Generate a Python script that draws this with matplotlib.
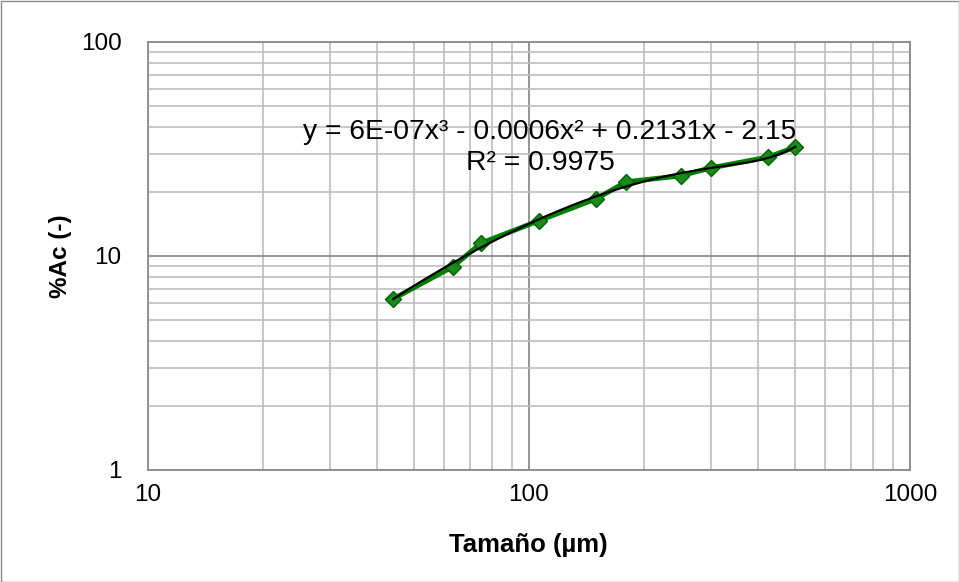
import matplotlib.pyplot as plt
from matplotlib.ticker import LogLocator, FixedLocator, NullFormatter
import numpy as np

plt.rcParams['font.family'] = ['Liberation Sans', 'DejaVu Sans']

# tamaño de malla (um) y % acumulado
tamano = [44, 63, 75, 106, 150, 180, 250, 300, 425, 500]
acum = [6.3, 8.9, 11.5, 14.6, 18.5, 22.2, 23.7, 25.8, 29.0, 32.3]

xticks = [10, 100, 1000]
yticks = [1, 10, 100]

coef = np.polyfit(tamano, acum, 3)
xs = np.linspace(min(tamano), max(tamano), 200)
ys = np.polyval(coef, xs)

fig = plt.figure(figsize=(9.59, 5.82), dpi=100)
ax = fig.add_axes([148/959, 1 - 470/582, 762/959, 428/582])

ax.set_xscale('log')
ax.set_yscale('log')
ax.set_xlim(10, 1000)
ax.set_ylim(1, 100)

ax.xaxis.set_major_locator(FixedLocator(xticks))
ax.yaxis.set_major_locator(FixedLocator(yticks))
ax.set_xticklabels([str(t) for t in xticks])
ax.set_yticklabels([str(t) for t in yticks])
ax.xaxis.set_minor_locator(LogLocator(base=10, subs=np.arange(2, 10)))
ax.yaxis.set_minor_locator(LogLocator(base=10, subs=np.arange(2, 10)))
ax.xaxis.set_minor_formatter(NullFormatter())
ax.yaxis.set_minor_formatter(NullFormatter())

ax.grid(True, which='major', color='#8c8c8c', linewidth=1.3)
ax.grid(True, which='minor', color='#bfbfbf', linewidth=1.2)
ax.set_axisbelow(True)
for s in ax.spines.values():
    s.set_color('#8c8c8c')
    s.set_linewidth(1.3)
ax.tick_params(which='both', length=0, labelsize=17.5)
ax.tick_params(axis='y', pad=19)
ax.tick_params(axis='x', pad=10)

ax.plot(tamano, acum, color='#008000', linewidth=3.6, marker='D',
        markersize=8, markerfacecolor='#1a8a1a', markeredgecolor='#006400', zorder=3)
ax.plot(xs, ys, color='black', linewidth=1.6, zorder=4)

fig.text(550/959, 1 - 132/582, 'y = 6E-07x³ - 0.0006x² + 0.2131x - 2.15',
         ha='center', va='center', fontsize=20.3)
fig.text(540/959, 1 - 163/582, 'R² = 0.9975',
         ha='center', va='center', fontsize=20.3)

fig.text(528/959, 1 - 545/582, 'Tamaño (µm)', ha='center', va='center',
         fontsize=18.5, fontweight='bold')
fig.text(60/959, 1 - 256/582, '%Ac (-)', ha='center', va='center',
         fontsize=17.5, fontweight='bold', rotation=90)

fig.patches.append(plt.Rectangle((0.5/959, 0.5/582), 1 - 1/959, 1 - 1/582,
                                 transform=fig.transFigure, fill=False,
                                 edgecolor='#8c8c8c', linewidth=1))

fig.savefig('out.png', dpi=100)
